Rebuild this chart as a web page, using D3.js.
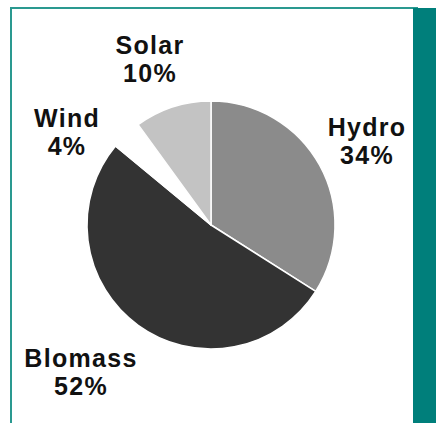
<!DOCTYPE html>
<html>
<head>
<meta charset="utf-8">
<script src="https://cdn.jsdelivr.net/npm/d3@7"></script>
<style>
  html, body { margin: 0; padding: 0; background: #fff; }
  svg { display: block; }
  text { font-family: "Liberation Sans", Arial, sans-serif; font-weight: bold; fill: #111; }
</style>
</head>
<body>
<svg id="chart" width="440" height="423"></svg>
<script>
// Energy sources, clockwise from 12 o'clock
const sources = ["Hydro", "Blomass", "Wind", "Solar"];
const shares = [34, 52, 4, 10];
const shades = ["#8b8b8b", "#333333", "#ffffff", "#c3c3c3"];
// label anchor points (center x, first baseline y) for each source
const labelX = [367, 81, 67, 150];
const labelY = [136, 367, 127, 54];

const svg = d3.select("#chart");

// frame: teal rules on top and left, solid teal band at right
svg.append("rect").attr("x", 10).attr("y", 7).attr("width", 408).attr("height", 2).attr("fill", "#2a9990");
svg.append("rect").attr("x", 10).attr("y", 7).attr("width", 2).attr("height", 416).attr("fill", "#2a9990");
svg.append("rect").attr("x", 413).attr("y", 8).attr("width", 23).attr("height", 415).attr("fill", "#007f7b");

const cx = 211, cy = 225, radius = 124;

const pie = d3.pie().sort(null).value(d => d.v);
const arc = d3.arc().innerRadius(0).outerRadius(radius);
const data = sources.map((s, i) => ({ name: s, v: shares[i], color: shades[i], lx: labelX[i], ly: labelY[i] }));
const arcs = pie(data);

const g = svg.append("g").attr("transform", `translate(${cx},${cy})`);
g.selectAll("path")
  .data(arcs)
  .join("path")
  .attr("d", arc)
  .attr("fill", d => d.data.color)
  .attr("stroke", "#ffffff")
  .attr("stroke-width", 1.5)
  .attr("stroke-linejoin", "round");

const labels = svg.selectAll("text.lbl")
  .data(data)
  .join("text")
  .attr("class", "lbl")
  .attr("text-anchor", "middle")
  .style("font-size", "25px")
  .style("letter-spacing", "1.3px");

labels.append("tspan")
  .attr("x", d => d.lx)
  .attr("y", d => d.ly)
  .text(d => d.name);
labels.append("tspan")
  .attr("x", d => d.lx)
  .attr("y", d => d.ly + 28)
  .text(d => d.v + "%");
</script>
</body>
</html>
